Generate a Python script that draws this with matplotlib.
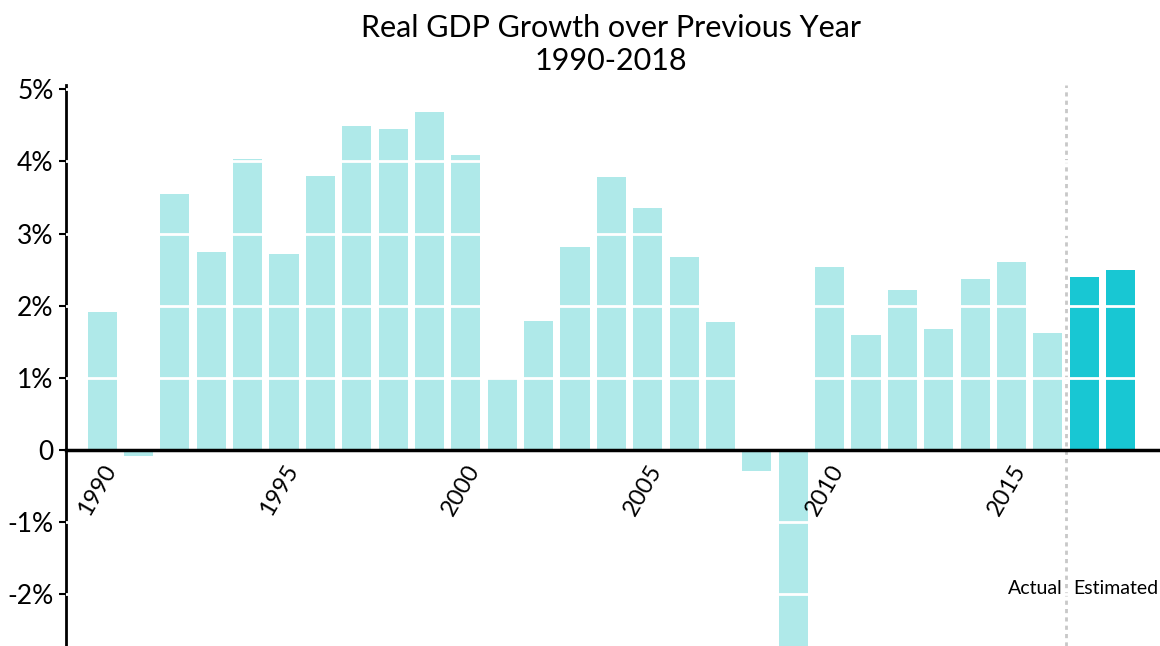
import numpy as np
import matplotlib.pyplot as plt

plt.rcParams['font.family'] = ['Lato', 'DejaVu Sans']

years = np.arange(1990, 2019)
growth = [1.91, -0.08, 3.55, 2.75, 4.04, 2.72, 3.80, 4.49, 4.45, 4.69,
          4.09, 0.98, 1.79, 2.81, 3.79, 3.35, 2.67, 1.78, -0.29, -2.78,
          2.53, 1.60, 2.22, 1.68, 2.37, 2.60, 1.62, 2.40, 2.50]
n_actual = 27  # 1990-2016 actual, 2017-2018 estimated
yticks = [-2, -1, 0, 1, 2, 3, 4, 5]
ytick_labels = ['-2%', '-1%', '0', '1%', '2%', '3%', '4%', '5%']
xticks = [1990, 1995, 2000, 2005, 2010, 2015]

light = '#afe9e9'
dark = '#18c7d3'
colors = [light] * n_actual + [dark] * (len(years) - n_actual)

fig = plt.figure(figsize=(11.6, 6.46), dpi=100)
ax = fig.add_axes([0.057, 0.0, 0.941, 0.868])

ax.bar(years, growth, width=0.8, color=colors, zorder=1)

ax.spines['top'].set_visible(False)
ax.spines['right'].set_visible(False)
ax.spines['bottom'].set_position(('data', 0))
ax.spines['bottom'].set_linewidth(2.5)
ax.spines['bottom'].set_zorder(3)
ax.spines['left'].set_linewidth(2)

ax.set_xlim(1989.01, 2019.02)
ax.set_ylim(-2.715, 5.055)

ax.set_yticks(yticks)
ax.set_yticklabels(ytick_labels, fontsize=19)
ax.tick_params(axis='y', length=5, width=1.5, pad=4)

ax.set_xticks(xticks)
ax.set_xticklabels([str(x) for x in xticks], fontsize=17, rotation=60,
                   ha='right', va='top', rotation_mode='anchor')
ax.tick_params(axis='x', length=0, pad=8)

# white grid lines over the bars
ax.yaxis.grid(True, color='white', linewidth=2, zorder=2)
ax.set_axisbelow(False)

ax.axvline(2016.5, color='#c8c8c8', linestyle=(0, (1.5, 1.5)), linewidth=2, zorder=0)
ax.text(2016.4, -1.92, 'Actual', ha='right', va='center', fontsize=14)
ax.text(2016.7, -1.92, 'Estimated', ha='left', va='center', fontsize=14)

fig.suptitle('Real GDP Growth over Previous Year\n1990-2018', fontsize=22,
             x=0.527, y=0.978, linespacing=1.2)

fig.savefig('out.png', dpi=100)
